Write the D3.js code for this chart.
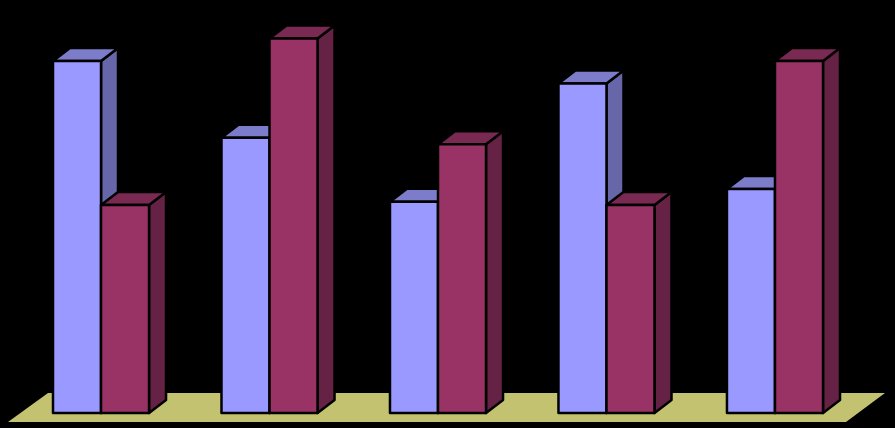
<!DOCTYPE html>
<html>
<head>
<meta charset="utf-8">
<script src="https://cdn.jsdelivr.net/npm/d3@7"></script>
<style>
    html, body { margin: 0; padding: 0; background: #000; }
    svg { display: block; }
</style>
</head>
<body>
<svg id="chart" width="895" height="428"></svg>
<script>
// values, the reference shows no labels
const categories = ['1', '2', '3', '4', '5'];
const seriesNames = ['Series 1', 'Series 2'];
const series1 = [11, 8.6, 6.6, 10.3, 7];
const series2 = [6.5, 11.7, 8.4, 6.5, 11];

const colors = ['#9999ff', '#993366'];
const topColors = ['#7c7ccb', '#7a2952'];
const sideColors = ['#6666a8', '#662244'];

const svg = d3.select('#chart');
const depthX = 17;
const depthY = 13;

const x0 = d3.scaleBand()
    .domain(categories)
    .range([53, 823])
    .paddingInner(0.43)
    .paddingOuter(0);

const x1 = d3.scaleBand()
    .domain(seriesNames)
    .range([0, x0.bandwidth()]);

const y = d3.scaleLinear()
    .domain([0, 12])
    .range([413, 29]);

// floor of the 3d box
svg.append('path')
    .attr('d', 'M8 422 L846 422 L885 393 L48 393 Z')
    .attr('fill', '#c2c270');

const rows = categories.flatMap((c, i) => [
    { cat: c, s: 0, value: series1[i] },
    { cat: c, s: 1, value: series2[i] }
]);

const bars = svg.selectAll('g.bar')
    .data(rows)
    .enter().append('g')
    .attr('class', 'bar')
    .attr('stroke', '#000')
    .attr('stroke-width', 2.5)
    .attr('stroke-linejoin', 'round');

function left(d) { return x0(d.cat) + x1(seriesNames[d.s]); }
function right(d) { return left(d) + x1.bandwidth(); }

// right side face
bars.append('path')
    .attr('fill', d => sideColors[d.s])
    .attr('d', d => `M${right(d)} ${y(d.value)} l${depthX} ${-depthY} V${y(0) - depthY} l${-depthX} ${depthY} Z`);

// top face
bars.append('path')
    .attr('fill', d => topColors[d.s])
    .attr('d', d => `M${left(d)} ${y(d.value)} l${depthX} ${-depthY} H${right(d) + depthX} l${-depthX} ${depthY} Z`);

// front face
bars.append('rect')
    .attr('fill', d => colors[d.s])
    .attr('x', left)
    .attr('y', d => y(d.value))
    .attr('width', x1.bandwidth())
    .attr('height', d => y(0) - y(d.value));
</script>
</body>
</html>
